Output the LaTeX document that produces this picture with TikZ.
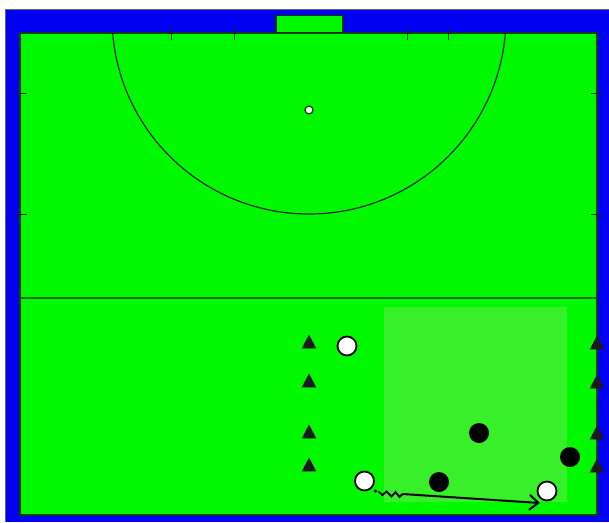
\documentclass[tikz,border=0pt]{standalone}
\usetikzlibrary{arrows.meta,shapes.geometric,calc}
\definecolor{pitchblue}{HTML}{0000F2}
\definecolor{pitchgreen}{HTML}{00F800}
\definecolor{zonegreen}{HTML}{38F02A}
\definecolor{linegreen}{HTML}{066A06}
\definecolor{conecol}{HTML}{1A1A1A}
\tikzset{
  whiteplayer/.style={circle,draw=black,line width=1.8pt,fill=white,minimum size=19pt,inner sep=0pt},
  blackplayer/.style={circle,fill=black,minimum size=20pt,inner sep=0pt},
  cone/.style={isosceles triangle,isosceles triangle apex angle=55,shape border rotate=90,fill=conecol,draw=conecol,line width=0.5pt,minimum height=13pt,minimum width=12pt,inner sep=0pt},
  tick/.style={draw=conecol,line width=1pt},
  fieldline/.style={draw=linegreen,line width=1.6pt}
}
\begin{document}
\begin{tikzpicture}[x=1pt,y=-1pt]
\useasboundingbox (0,0) rectangle (609,522);
% outer blue surround
\fill[pitchblue] (5,9) rectangle (609,522);
\draw[black!60,line width=0.6pt] (5,9) -- (609,9) (5,9) -- (5,522);
% pitch
\fill[pitchgreen] (20,33) rectangle (597,515);
\draw[linegreen!60!black,line width=1.1pt] (20,33) rectangle (597,515);
% goal box
\node[draw=linegreen!50!black,line width=1.1pt,fill=pitchgreen,minimum width=67pt,minimum height=17pt,inner sep=0pt,anchor=south] (goal) at (309.5,33) {};
% shooting circle
\begin{scope}
\clip (20,33) rectangle (597,515);
\draw[draw=linegreen!40!black,line width=1.2pt] (309,17) circle[radius=197];
\end{scope}
% penalty spot
\node[circle,draw=linegreen!60!black,line width=1.2pt,fill=white,minimum size=8pt,inner sep=0pt] (spot) at (309,110) {};
% halfway line
\draw[fieldline] (20,298) -- (597,298);
% ticks
\foreach \x in {171,234,407,448} \draw[tick] (\x,27) -- (\x,40);
\foreach \y in {93,214} {\draw[tick] (15,\y) -- (27,\y); \draw[tick] (591,\y) -- (603,\y);}
% training zone
\fill[zonegreen] (384,307) rectangle (567,502);
% cones
\foreach \y [count=\i] in {344,383,434,467} \node[cone] (cl\i) at (309,\y) {};
\foreach \y [count=\i] in {345,384,435,468} \node[cone] (cr\i) at (597,\y) {};
% players
\node[whiteplayer] (w1) at (347,346) {};
\node[whiteplayer] (w2) at (364.5,481) {};
\node[whiteplayer] (w3) at (547,491) {};
\node[blackplayer] (b1) at (479,433) {};
\node[blackplayer] (b2) at (570,457) {};
\node[blackplayer] (b3) at (439,482) {};
% dribble and pass
\coordinate (dot) at ($(w2)+(11,10)$);
\coordinate (z0) at ($(w2)+(14,10.5)$);
\coordinate (z1) at ($(w2)+(38,13)$);
\coordinate (tip) at ($(w3)+(-7,12)$);
\fill[black] (dot) circle[radius=1.8];
\draw[black,line width=1.8pt,line join=miter] (z0) -- ($(w2)+(18,14)$) -- ($(w2)+(22,10.5)$) -- ($(w2)+(27,15.5)$) -- ($(w2)+(31,11)$) -- ($(w2)+(35,16)$) -- (z1);
\draw[black,line width=2pt,-{Straight Barb[length=9pt,width=15pt,line width=2pt]}] (z1) -- (tip);
\end{tikzpicture}
\end{document}
